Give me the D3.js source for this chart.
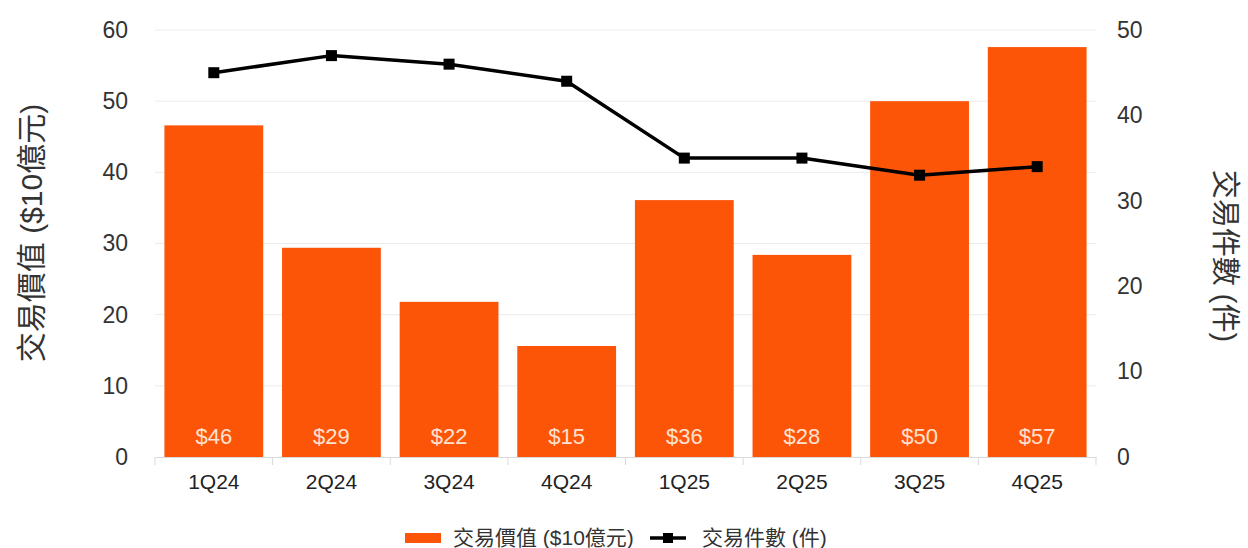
<!DOCTYPE html>
<html>
<head>
<meta charset="utf-8">
<script src="https://cdn.jsdelivr.net/npm/d3@7"></script>
<style>
  body { margin: 0; background: #fff; }
  text { font-family: "Liberation Sans", "Noto Sans CJK TC", sans-serif; }
</style>
</head>
<body>
<svg id="chart" width="1248" height="548"></svg>
<script>
// data
const quarters = ["1Q24", "2Q24", "3Q24", "4Q24", "1Q25", "2Q25", "3Q25", "4Q25"];
const dealValue = [46.6, 29.4, 21.8, 15.6, 36.1, 28.4, 50.0, 57.6];
const valueLabels = ["$46", "$29", "$22", "$15", "$36", "$28", "$50", "$57"];
const dealCount = [45, 47, 46, 44, 35, 35, 33, 34];
const leftTicks = [0, 10, 20, 30, 40, 50, 60];
const rightTicks = [0, 10, 20, 30, 40, 50];

const barColor = "#fd5508";
const plotLeft = 155, plotRight = 1096, plotTop = 30, plotBottom = 457;

const svg = d3.select("#chart");

const x = d3.scaleBand().domain(quarters).range([plotLeft, plotRight]).paddingInner(0.16).paddingOuter(0.08);
const yL = d3.scaleLinear().domain([0, 60]).range([plotBottom, plotTop]);
const yR = d3.scaleLinear().domain([0, 50]).range([plotBottom, plotTop]);

// gridlines
svg.append("g")
    .selectAll("line")
    .data(leftTicks.slice(1))
    .enter().append("line")
    .attr("x1", plotLeft)
    .attr("x2", plotRight)
    .attr("y1", d => yL(d))
    .attr("y2", d => yL(d))
    .attr("stroke", "#ebebeb")
    .attr("stroke-width", 1);

// left axis
const leftAxis = svg.append("g")
    .attr("transform", `translate(${plotLeft},0)`)
    .call(d3.axisLeft(yL).tickValues(leftTicks).tickSize(0).tickPadding(27));
leftAxis.select(".domain").remove();
leftAxis.selectAll("text").attr("font-size", 23).attr("fill", "#333");

// right axis
const rightAxis = svg.append("g")
    .attr("transform", `translate(${plotRight},0)`)
    .call(d3.axisRight(yR).tickValues(rightTicks).tickSize(0).tickPadding(21));
rightAxis.select(".domain").remove();
rightAxis.selectAll("text").attr("font-size", 23).attr("fill", "#333");

// bars
svg.append("g")
    .selectAll("rect")
    .data(quarters)
    .enter().append("rect")
    .attr("x", d => x(d))
    .attr("width", x.bandwidth())
    .attr("y", (d, i) => yL(dealValue[i]))
    .attr("height", (d, i) => plotBottom - yL(dealValue[i]))
    .attr("fill", barColor);

// value labels inside bars
svg.append("g")
    .selectAll("text")
    .data(quarters)
    .enter().append("text")
    .attr("x", d => x(d) + x.bandwidth() / 2)
    .attr("y", 444)
    .attr("text-anchor", "middle")
    .attr("font-size", 22)
    .attr("fill", "#ffe3d2")
    .text((d, i) => valueLabels[i]);

// x axis
const xAxis = svg.append("g")
    .attr("transform", `translate(0,${plotBottom})`)
    .call(d3.axisBottom(x).tickSize(0).tickPadding(17));
xAxis.select(".domain").attr("stroke", "#d9d9d9");
xAxis.selectAll("text").attr("font-size", 21).attr("fill", "#222");
svg.append("g")
    .selectAll("line")
    .data(d3.range(quarters.length + 1))
    .enter().append("line")
    .attr("x1", i => plotLeft + i * (plotRight - plotLeft) / quarters.length)
    .attr("x2", i => plotLeft + i * (plotRight - plotLeft) / quarters.length)
    .attr("y1", plotBottom)
    .attr("y2", plotBottom + 8)
    .attr("stroke", "#d9d9d9");

// count line
const line = d3.line()
    .x((d, i) => x(quarters[i]) + x.bandwidth() / 2)
    .y(d => yR(d));
svg.append("path")
    .datum(dealCount)
    .attr("d", line)
    .attr("fill", "none")
    .attr("stroke", "#000")
    .attr("stroke-width", 3.5)
    .attr("stroke-linejoin", "round");
svg.append("g")
    .selectAll("rect")
    .data(dealCount)
    .enter().append("rect")
    .attr("x", (d, i) => x(quarters[i]) + x.bandwidth() / 2 - 5.5)
    .attr("y", d => yR(d) - 5.5)
    .attr("width", 11)
    .attr("height", 11)
    .attr("fill", "#000");

// axis titles
svg.append("text")
    .attr("transform", "translate(42,233) rotate(-90)")
    .attr("text-anchor", "middle")
    .attr("font-size", 30)
    .attr("fill", "#333")
    .text("交易價值 ($10億元)");
svg.append("text")
    .attr("transform", "translate(1215,256) rotate(90)")
    .attr("text-anchor", "middle")
    .attr("font-size", 29)
    .attr("fill", "#333")
    .text("交易件數 (件)");

// legend
const legend = svg.append("g").attr("transform", "translate(0,538)");
legend.append("rect")
    .attr("x", 405).attr("y", -5).attr("width", 36).attr("height", 10)
    .attr("fill", barColor);
legend.append("text")
    .attr("x", 453).attr("y", 7)
    .attr("font-size", 21).attr("fill", "#333")
    .text("交易價值 ($10億元)");
legend.append("line")
    .attr("x1", 650).attr("x2", 686).attr("y1", 0).attr("y2", 0)
    .attr("stroke", "#000").attr("stroke-width", 3.5);
legend.append("rect")
    .attr("x", 663).attr("y", -5).attr("width", 10).attr("height", 10)
    .attr("fill", "#000");
legend.append("text")
    .attr("x", 702).attr("y", 7)
    .attr("font-size", 21).attr("fill", "#333")
    .text("交易件數 (件)");
</script>
</body>
</html>
